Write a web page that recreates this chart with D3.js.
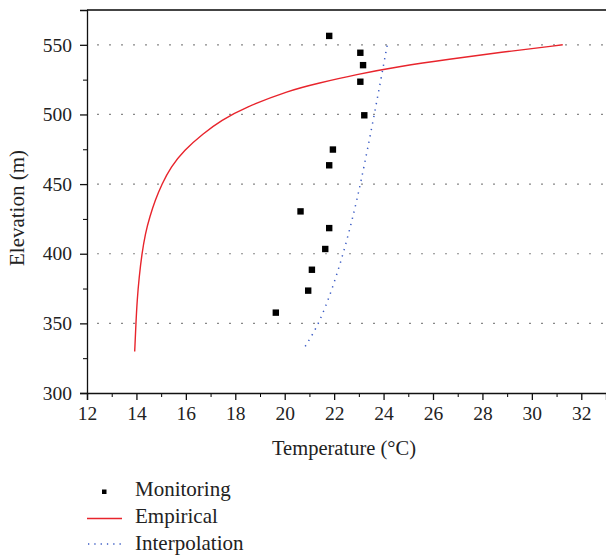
<!DOCTYPE html>
<html>
<head>
<meta charset="utf-8">
<script src="https://cdn.jsdelivr.net/npm/d3@7"></script>
<style>
  body { margin: 0; background: #fff; }
  text { font-family: "Liberation Serif", "DejaVu Serif", serif; fill: #222; }
</style>
</head>
<body>
<div id="chart"></div>
<script>
// monitoring points (temperature, elevation)
const monT = [21.80, 23.06, 23.17, 23.06, 23.22, 21.95, 21.80, 20.64, 21.80, 21.64, 21.10, 20.95, 19.64];
const monE = [556.4, 544.3, 535.4, 523.5, 499.4, 474.8, 463.5, 430.4, 418.4, 403.4, 388.5, 373.5, 357.7];

// empirical curve
const empT = [13.93, 13.98, 14.03, 14.11, 14.22, 14.36, 14.54, 14.76, 15.02, 15.39, 15.93, 16.69, 17.44, 18.37, 20.20, 21.28, 22.90, 24.65, 26.66, 28.69, 31.25];
const empE = [329.8, 350.1, 366.8, 383.3, 399.8, 414.6, 426.5, 438.5, 449.7, 462.3, 474.3, 486.2, 495.8, 504.9, 517.3, 522.1, 528.7, 534.5, 539.7, 544.5, 550];

// interpolation curve
const intT = [20.83, 21.40, 21.93, 22.37, 22.74, 23.07, 23.63, 24.15];
const intE = [333.5, 350, 375, 400, 425, 450, 500, 550];

const xTicks = [12, 14, 16, 18, 20, 22, 24, 26, 28, 30, 32];
const yTicks = [300, 350, 400, 450, 500, 550];
const gridTicks = [350, 400, 450, 500, 550];

const W = 606, H = 556;
const mLeft = 87, mRight = 606, mTop = 10, mBottom = 393;

const svg = d3.select('#chart').append('svg')
    .attr('width', W)
    .attr('height', H);

const x = d3.scaleLinear().domain([12, 33]).range([mLeft, mRight]);
const y = d3.scaleLinear().domain([300, 575]).range([mBottom, mTop]);

// dotted grid
svg.append('g')
    .selectAll('line')
    .data(gridTicks)
    .join('line')
    .attr('x1', mLeft + 10)
    .attr('x2', mRight)
    .attr('y1', d => y(d))
    .attr('y2', d => y(d))
    .attr('stroke', '#888')
    .attr('stroke-width', 1.2)
    .attr('stroke-dasharray', '2,10');

// top border
svg.append('line')
    .attr('x1', mLeft).attr('x2', mRight)
    .attr('y1', mTop).attr('y2', mTop)
    .attr('stroke', '#444')
    .attr('stroke-width', 2);

// minor ticks
svg.append('g')
    .attr('transform', 'translate(0,' + mBottom + ')')
    .call(d3.axisBottom(x).tickValues(d3.range(13, 33, 2)).tickSize(4).tickFormat(''))
    .call(g => g.select('.domain').remove());
svg.append('g')
    .attr('transform', 'translate(' + mLeft + ',0)')
    .call(d3.axisLeft(y).tickValues([325, 375, 425, 475, 525, 575]).tickSize(4).tickFormat(''))
    .call(g => g.select('.domain').remove());

const xAxisG = svg.append('g')
    .attr('transform', 'translate(0,' + mBottom + ')')
    .call(d3.axisBottom(x).tickValues(xTicks).tickSize(7).tickPadding(6));

const yAxisG = svg.append('g')
    .attr('transform', 'translate(' + mLeft + ',0)')
    .call(d3.axisLeft(y).tickValues(yTicks).tickSize(7).tickPadding(8));

[xAxisG, yAxisG].forEach(g => {
    g.selectAll('path, line').attr('stroke', '#111').attr('stroke-width', 1.3);
    g.selectAll('text')
        .attr('font-size', 19.5)
        .style('font-family', '"Liberation Serif", serif')
        .attr('fill', '#222');
});

svg.append('text')
    .attr('x', 344)
    .attr('y', 455)
    .attr('text-anchor', 'middle')
    .attr('font-size', 20.5)
    .text('Temperature (°C)');

svg.append('text')
    .attr('transform', 'translate(24,208) rotate(-90)')
    .attr('text-anchor', 'middle')
    .attr('font-size', 21)
    .text('Elevation (m)');

// curves (smoothed through the read-off points)
const lineGen = d3.line()
    .x(d => x(d[0]))
    .y(d => y(d[1]))
    .curve(d3.curveBasis);

svg.append('path')
    .datum(empT.map((t, i) => [t, empE[i]]))
    .attr('d', lineGen)
    .attr('fill', 'none')
    .attr('stroke', '#e8242c')
    .attr('stroke-width', 1.4);

svg.append('path')
    .datum(intT.map((t, i) => [t, intE[i]]))
    .attr('d', lineGen)
    .attr('fill', 'none')
    .attr('stroke', '#3a5bc4')
    .attr('stroke-width', 1.5)
    .attr('stroke-dasharray', '1.3,5.2');

// monitoring squares
svg.append('g')
    .selectAll('rect')
    .data(monT.map((t, i) => [t, monE[i]]))
    .join('rect')
    .attr('x', d => x(d[0]) - 3.2)
    .attr('y', d => y(d[1]) - 3.2)
    .attr('width', 6.4)
    .attr('height', 6.4)
    .attr('fill', '#000');

// legend
const legend = svg.append('g');
legend.append('rect')
    .attr('x', 102).attr('y', 489.5)
    .attr('width', 4.5).attr('height', 4.5)
    .attr('fill', '#000');
legend.append('line')
    .attr('x1', 87).attr('x2', 122)
    .attr('y1', 518.5).attr('y2', 518.5)
    .attr('stroke', '#e8242c').attr('stroke-width', 1.3);
legend.append('line')
    .attr('x1', 88).attr('x2', 122)
    .attr('y1', 544).attr('y2', 544)
    .attr('stroke', '#3a5bc4').attr('stroke-width', 1.3)
    .attr('stroke-dasharray', '1.3,5');

const labels = ['Monitoring', 'Empirical', 'Interpolation'];
legend.selectAll('text.lab')
    .data(labels)
    .join('text')
    .attr('class', 'lab')
    .attr('x', 135)
    .attr('y', (d, i) => 496 + i * 27)
    .attr('font-size', 21)
    .text(d => d);
</script>
</body>
</html>
